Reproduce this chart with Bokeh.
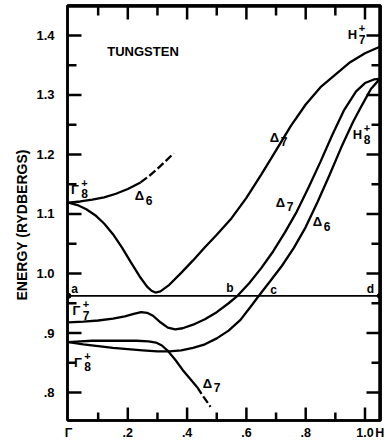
import math
from bokeh.plotting import figure
from bokeh.models import Range1d, FixedTicker, Label, Title, AllLabels, LinearAxis
from bokeh.embed import file_html
from bokeh.resources import INLINE

# ---------------- data ----------------
band_a_x = [0, 0.03, 0.06, 0.09, 0.12, 0.15, 0.18, 0.21, 0.24, 0.265, 0.28, 0.293, 0.31, 0.34, 0.38,
            0.42, 0.46, 0.50, 0.55, 0.60, 0.65, 0.70, 0.75, 0.80, 0.85, 0.90, 0.95, 1.00, 1.05]
band_a_y = [1.119, 1.115, 1.108, 1.098, 1.084, 1.066, 1.044, 1.019, 0.995, 0.978, 0.971, 0.968, 0.970, 0.981, 1.001,
            1.022, 1.044, 1.065, 1.093, 1.127, 1.166, 1.207, 1.248, 1.284, 1.313, 1.334, 1.355, 1.370, 1.381]

band_b_x = [0, 0.04, 0.08, 0.12, 0.16, 0.20, 0.243]
band_b_y = [1.119, 1.121, 1.124, 1.128, 1.134, 1.142, 1.153]
band_b_dash_x = [0.243, 0.27, 0.30, 0.33, 0.355]
band_b_dash_y = [1.153, 1.163, 1.176, 1.190, 1.202]

band_c_x = [0, 0.05, 0.10, 0.15, 0.19, 0.22, 0.245, 0.265, 0.285, 0.31, 0.335, 0.36, 0.385, 0.42, 0.46, 0.50,
            0.54, 0.57, 0.61, 0.65, 0.69, 0.73, 0.77, 0.81, 0.85, 0.89, 0.93, 0.97, 1.00, 1.03, 1.05]
band_c_y = [0.918, 0.919, 0.921, 0.924, 0.928, 0.932, 0.935, 0.934, 0.929, 0.918, 0.909, 0.906, 0.908, 0.914, 0.923, 0.935,
            0.950, 0.9625, 0.984, 1.009, 1.037, 1.069, 1.104, 1.145, 1.188, 1.233, 1.275, 1.306, 1.320, 1.326, 1.327]

band_d_x = [0, 0.05, 0.10, 0.15, 0.20, 0.25, 0.30, 0.34, 0.38, 0.42, 0.46, 0.50, 0.54, 0.58, 0.62, 0.642,
            0.68, 0.72, 0.76, 0.80, 0.84, 0.88, 0.92, 0.96, 0.99, 1.02, 1.05]
band_d_y = [0.8846, 0.881, 0.878, 0.875, 0.873, 0.871, 0.869, 0.869, 0.871, 0.875, 0.881, 0.891, 0.904, 0.922, 0.948, 0.9625,
            0.987, 1.013, 1.043, 1.078, 1.120, 1.165, 1.212, 1.255, 1.283, 1.310, 1.327]

band_e_x = [0, 0.04, 0.08, 0.13, 0.18, 0.23, 0.27, 0.295, 0.315, 0.335, 0.36, 0.385, 0.41, 0.434]
band_e_y = [0.8846, 0.886, 0.887, 0.887, 0.887, 0.887, 0.886, 0.884, 0.879, 0.870, 0.855, 0.838, 0.823, 0.809]
band_e_dash_x = [0.434, 0.455, 0.479]
band_e_dash_y = [0.809, 0.793, 0.776]

fermi_energy = 0.9625
fermi_x = [0.0, 1.05]
fermi_y = [fermi_energy, fermi_energy]

xtick_vals = [0, 0.2, 0.4, 0.6, 0.8, 1.0]
xtick_labels = ["\u0393", ".2", ".4", ".6", ".8", "1.0"]
xminor_vals = [0.1, 0.3, 0.5, 0.7, 0.9]
h_point = 1.05
h_label = "H"
ytick_vals = [0.8, 0.9, 1.0, 1.1, 1.2, 1.3, 1.4]
ytick_labels = [".8", ".9", "1.0", "1.1", "1.2", "1.3", "1.4"]
yminor_vals = [0.85, 0.95, 1.05, 1.15, 1.25, 1.35]

# ---------------- figure ----------------
FONT = "Liberation Sans"
INK = "#000000"

FRAME_W, FRAME_H = 313, 417
xr = Range1d(-0.0034, 1.0523)
yr = Range1d(0.7530, 1.4503)
p = figure(width=386, height=442, output_backend="svg", toolbar_location=None,
           x_range=xr, y_range=yr,
           min_border_left=67, min_border_right=6, min_border_top=5, min_border_bottom=20)
p.xgrid.visible = False
p.ygrid.visible = False
p.background_fill_color = "white"
p.border_fill_color = "white"
p.outline_line_color = INK
p.outline_line_width = 2.5

def style_axis(ax, ticks, labels, standoff, size):
    ax.ticker = FixedTicker(ticks=ticks, minor_ticks=[])
    ax.axis_line_color = INK
    ax.axis_line_width = 2.5
    ax.major_tick_line_color = None
    ax.minor_tick_line_color = None
    ax.major_tick_in = 0
    ax.major_tick_out = 0
    ax.minor_tick_in = 0
    ax.minor_tick_out = 0
    ax.major_label_policy = AllLabels()
    ax.major_label_text_font = FONT
    ax.major_label_text_font_style = "bold"
    ax.major_label_text_color = INK
    ax.major_label_standoff = standoff
    if labels is None:
        ax.major_label_text_font_size = "0px"
        ax.major_label_overrides = {t: "" for t in ticks}
    else:
        ax.major_label_text_font_size = size
        ax.major_label_overrides = dict(zip(ticks, labels))

style_axis(p.xaxis[0], xtick_vals + [h_point], xtick_labels + [h_label], 5, "12.5px")
style_axis(p.yaxis[0], ytick_vals, ytick_labels, 13, "13px")
p.yaxis[0].major_label_orientation = "horizontal"

top_ax = LinearAxis()
style_axis(top_ax, xtick_vals, None, 0, "0px")
p.add_layout(top_ax, "above")
right_ax = LinearAxis()
style_axis(right_ax, ytick_vals, None, 0, "0px")
p.add_layout(right_ax, "right")

ytitle = Title(text="ENERGY (RYDBERGS)", align="left", offset=120, standoff=8,
               text_font=FONT, text_font_style="bold", text_font_size="14px", text_color=INK)
p.add_layout(ytitle, "left")

# ---------------- frame edges and inward tick marks, drawn as line glyphs ----------------
dxp = (xr.end - xr.start) / FRAME_W   # data per pixel
dyp = (yr.end - yr.start) / FRAME_H
TW = 2.5

p.line([xr.start, xr.end], [yr.end - 1.0 * dyp] * 2, line_color=INK, line_width=TW)
p.line([xr.end - 1.0 * dxp] * 2, [yr.start, yr.end], line_color=INK, line_width=TW)

def tick_x(vals, y_edge, length_px, sign):
    for v in vals:
        p.line([v, v], [y_edge, y_edge + sign * length_px * dyp], line_color=INK, line_width=TW)

def tick_y(vals, x_edge, length_px, sign):
    for v in vals:
        p.line([x_edge, x_edge + sign * length_px * dxp], [v, v], line_color=INK, line_width=TW)

tick_x(xtick_vals[1:], yr.start, 13, 1)
tick_x(xminor_vals, yr.start, 8, 1)
tick_x(xtick_vals[1:], yr.end, 14, -1)
tick_x(xminor_vals, yr.end, 10, -1)
tick_y(ytick_vals, xr.start, 14, 1)
tick_y(yminor_vals, xr.start, 9, 1)
tick_y(ytick_vals, xr.end, 14, -1)
tick_y(yminor_vals, xr.end, 9, -1)

# ---------------- bands ----------------
LW = 2.3
p.line(band_a_x, band_a_y, line_color=INK, line_width=LW)
p.line(band_b_x, band_b_y, line_color=INK, line_width=LW)
p.line(band_b_dash_x, band_b_dash_y, line_color=INK, line_width=LW, line_dash="8 3")
p.line(band_c_x, band_c_y, line_color=INK, line_width=LW)
p.line(band_d_x, band_d_y, line_color=INK, line_width=LW)
p.line(band_e_x, band_e_y, line_color=INK, line_width=LW)
p.line(band_e_dash_x, band_e_dash_y, line_color=INK, line_width=LW, line_dash="8 3")

p.line(fermi_x, fermi_y, line_color=INK, line_width=1.8)
p.scatter(fermi_x, fermi_y, size=5, fill_color=INK, line_color=INK)

# ---------------- labels ----------------
def lab(x, y, text, size=13, dx=0, dy=0):
    p.add_layout(Label(x=x, y=y, text=text, x_offset=dx, y_offset=dy,
                       text_font=FONT, text_font_style="bold", text_font_size=f"{size}px",
                       text_color=INK, text_align="center", text_baseline="middle"))

def sym(x, y, main, sub=None, sup=None, sdx=9.5):
    lab(x, y, main, 13)
    if sup:
        lab(x, y, sup, 11, dx=sdx, dy=6.5)
    if sub:
        lab(x, y, sub, 12, dx=sdx, dy=-4.5)

lab(0.2513, 1.3722, "TUNGSTEN", 13)
sym(0.0219, 1.1418, "\u0393", "8", "+")
sym(0.0270, 0.9375, "\u0393", "7", "+")
sym(0.0320, 0.8505, "\u0393", "8", "+")
sym(0.9578, 1.4010, "H", "7", "+")
sym(0.9747, 1.2329, "H", "8", "+")
sym(0.6948, 1.2288, "\u0394", "7")
sym(0.7150, 1.1201, "\u0394", "7")
sym(0.8398, 1.0866, "\u0394", "6")
sym(0.2395, 1.1309, "\u0394", "6")
sym(0.4688, 0.8157, "\u0394", "7")
lab(0.0202, 0.9737, "a", 12)
lab(0.5447, 0.9751, "b", 12)
lab(0.6914, 0.9726, "c", 12)
lab(1.0185, 0.9741, "d", 12)

open("out.html", "w").write(file_html(p, INLINE))
